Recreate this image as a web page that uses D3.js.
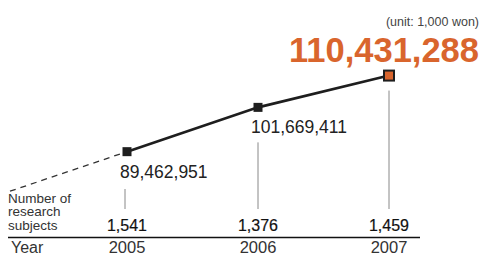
<!DOCTYPE html>
<html>
<head>
<meta charset="utf-8">
<script src="https://cdn.jsdelivr.net/npm/d3@7/dist/d3.min.js"></script>
<style>
  body { margin: 0; background: #fff; }
  text { font-family: "Liberation Sans", Arial, sans-serif; }
</style>
</head>
<body>
<div id="chart"></div>
<script>
var years = [2005, 2006, 2007]
var budget = [89462951, 101669411, 110431288]   // unit: 1,000 won
var subjects = [1541, 1376, 1459]

var width = 484, height = 256

var x = d3.scaleLinear().domain([2005, 2007]).range([127, 389])
var y = d3.scaleLinear().domain([80e6, 115e6]).range([186, 59])

var fmt = d3.format(',')
var orange = '#d9652d'

var svg = d3.select('#chart').append('svg')
  .attr('width', width)
  .attr('height', height)

var pts = years.map(function(yr, i) { return {year: yr, v: budget[i], n: subjects[i]} })

// dashed lead-in, continuing the first segment to the left edge
var slope = (y(budget[1]) - y(budget[0])) / (x(years[1]) - x(years[0]))
var x0 = 10
svg.append('line')
  .attr('x1', x0)
  .attr('y1', y(budget[0]) + slope * (x0 - x(years[0])))
  .attr('x2', x(years[0]))
  .attr('y2', y(budget[0]))
  .attr('stroke', '#333')
  .attr('stroke-width', 1.3)
  .attr('stroke-dasharray', '6,5')

// gray drop lines
var dropTop = [189, y(budget[1]) + 35, y(budget[2]) + 15]
svg.selectAll('.drop')
  .data(pts)
  .enter()
  .append('line')
  .attr('class', 'drop')
  .attr('x1', function(d) { return x(d.year) - (d.year === 2005 ? 2 : 0) })
  .attr('x2', function(d) { return x(d.year) - (d.year === 2005 ? 2 : 0) })
  .attr('y1', function(d, i) { return dropTop[i] })
  .attr('y2', 209)
  .attr('stroke', '#888')
  .attr('stroke-width', 1)

// line
var line = d3.line()
  .x(function(d) { return x(d.year) })
  .y(function(d) { return y(d.v) })

svg.append('path')
  .datum(pts)
  .attr('d', line)
  .attr('fill', 'none')
  .attr('stroke', '#1e1e1e')
  .attr('stroke-width', 2.6)

// markers
svg.selectAll('.mark')
  .data(pts)
  .enter()
  .append('rect')
  .attr('class', 'mark')
  .attr('x', function(d, i) { return x(d.year) - (i === 2 ? 5 : 4.5) })
  .attr('y', function(d, i) { return y(d.v) - (i === 2 ? 5 : 4.5) })
  .attr('width', function(d, i) { return i === 2 ? 10 : 9 })
  .attr('height', function(d, i) { return i === 2 ? 10 : 9 })
  .attr('fill', function(d, i) { return i === 2 ? orange : '#1e1e1e' })
  .attr('stroke', '#1e1e1e')
  .attr('stroke-width', function(d, i) { return i === 2 ? 2 : 0 })

// value labels
svg.selectAll('.val')
  .data(pts.slice(0, 2))
  .enter()
  .append('text')
  .attr('class', 'val')
  .attr('x', function(d) { return x(d.year) - 7 })
  .attr('y', function(d) { return y(d.v) + 26 })
  .attr('font-size', 17.5)
  .attr('fill', '#222')
  .text(function(d) { return fmt(d.v) })

svg.append('text')
  .attr('x', 479)
  .attr('y', 62)
  .attr('text-anchor', 'end')
  .attr('font-size', 35)
  .attr('font-weight', 'bold')
  .attr('fill', orange)
  .attr('textLength', 190)
  .attr('lengthAdjust', 'spacingAndGlyphs')
  .text(fmt(budget[2]))

svg.append('text')
  .attr('x', 479)
  .attr('y', 26)
  .attr('text-anchor', 'end')
  .attr('font-size', 12.5)
  .attr('fill', '#444')
  .text('(unit: 1,000 won)')

// research subjects row
svg.append('text')
  .attr('font-size', 13.5)
  .attr('fill', '#333')
  .selectAll('tspan')
  .data(['Number of', 'research', 'subjects'])
  .enter()
  .append('tspan')
  .attr('x', 8)
  .attr('y', function(d, i) { return 202.5 + i * 13.5 })
  .text(function(d) { return d })

svg.selectAll('.cnt')
  .data(pts)
  .enter()
  .append('text')
  .attr('class', 'cnt')
  .attr('x', function(d) { return x(d.year) })
  .attr('y', 231)
  .attr('text-anchor', 'middle')
  .attr('font-size', 16)
  .attr('fill', '#111')
  .attr('stroke', '#111')
  .attr('stroke-width', 0.2)
  .text(function(d) { return fmt(d.n) })

// baseline rule
svg.append('line')
  .attr('x1', 8)
  .attr('x2', 420)
  .attr('y1', 237.5)
  .attr('y2', 237.5)
  .attr('stroke', '#111')
  .attr('stroke-width', 1.4)

// year row
svg.append('text')
  .attr('x', 11)
  .attr('y', 253)
  .attr('font-size', 16)
  .attr('fill', '#333')
  .text('Year')

svg.selectAll('.yr')
  .data(pts)
  .enter()
  .append('text')
  .attr('class', 'yr')
  .attr('x', function(d) { return x(d.year) })
  .attr('y', 253)
  .attr('text-anchor', 'middle')
  .attr('font-size', 16.5)
  .attr('fill', '#333')
  .text(function(d) { return d.year })
</script>
</body>
</html>
